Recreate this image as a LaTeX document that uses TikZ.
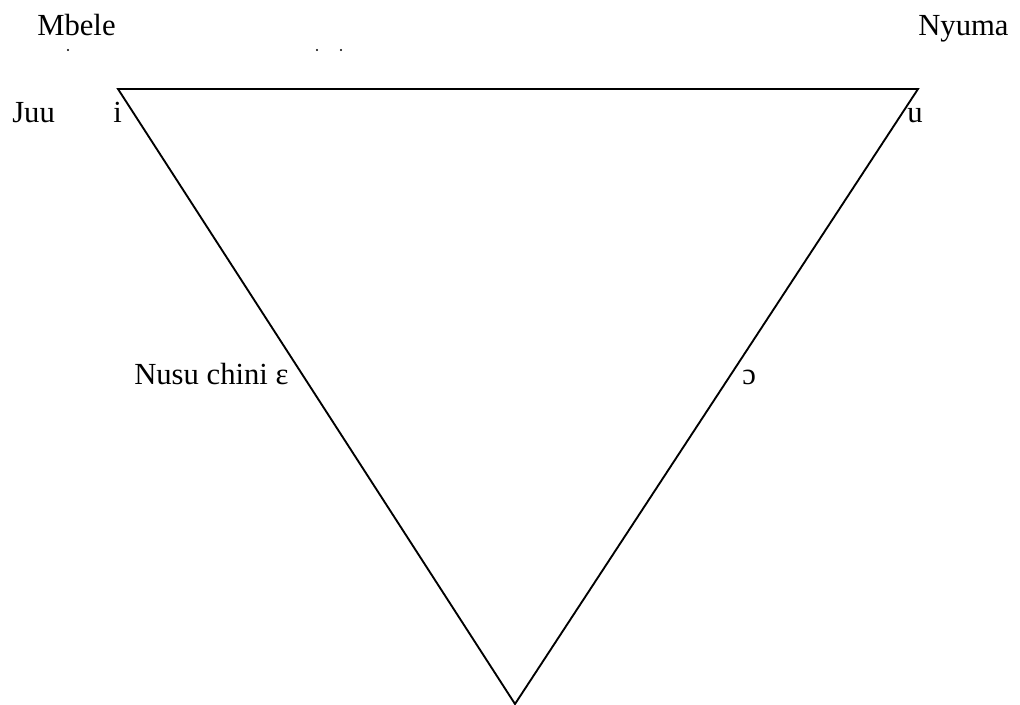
\documentclass[tikz,border=0pt]{standalone}
\usepackage{fontspec}
\setmainfont{Liberation Serif}
\usetikzlibrary{positioning}

\begin{document}
\begin{tikzpicture}[
  x=0.75pt, y=-0.75pt,
  vlab/.style={anchor=base west, inner sep=0pt, text=black,
               font=\fontsize{23}{27}\selectfont},
  edge/.style={draw=black, line width=1.4pt, line join=miter},
  speck/.style={fill=black, inner sep=0pt, minimum size=1.7pt, circle}
]
\useasboundingbox (0,0) rectangle (1020,705);
% corners of the vowel triangle
\coordinate (front) at (118,89);
\coordinate (back)  at (918,89);
\coordinate (low)   at (515,704);
\draw[edge] (front) -- (back) -- (low) -- cycle;
% labels
\node[vlab] (mbele) at (37,36)   {Mbele};
\node[vlab] (nyuma) at (918,36)  {Nyuma};
\node[vlab] (juu)   at (12,123)  {Juu};
\node[vlab] (vi)    at (113,123) {i};
\node[vlab] (vu)    at (907,123) {u};
\node[vlab] (nusu)  at (134,385) {Nusu chini ɛ};
\node[vlab] (vo)    at (742,385) {ɔ};
% stray specks under the top row
\node[speck] (s1) at (68,50) {};
\node[speck] (s2) at (317,50) {};
\node[speck] (s3) at (341,50) {};
\end{tikzpicture}
\end{document}
